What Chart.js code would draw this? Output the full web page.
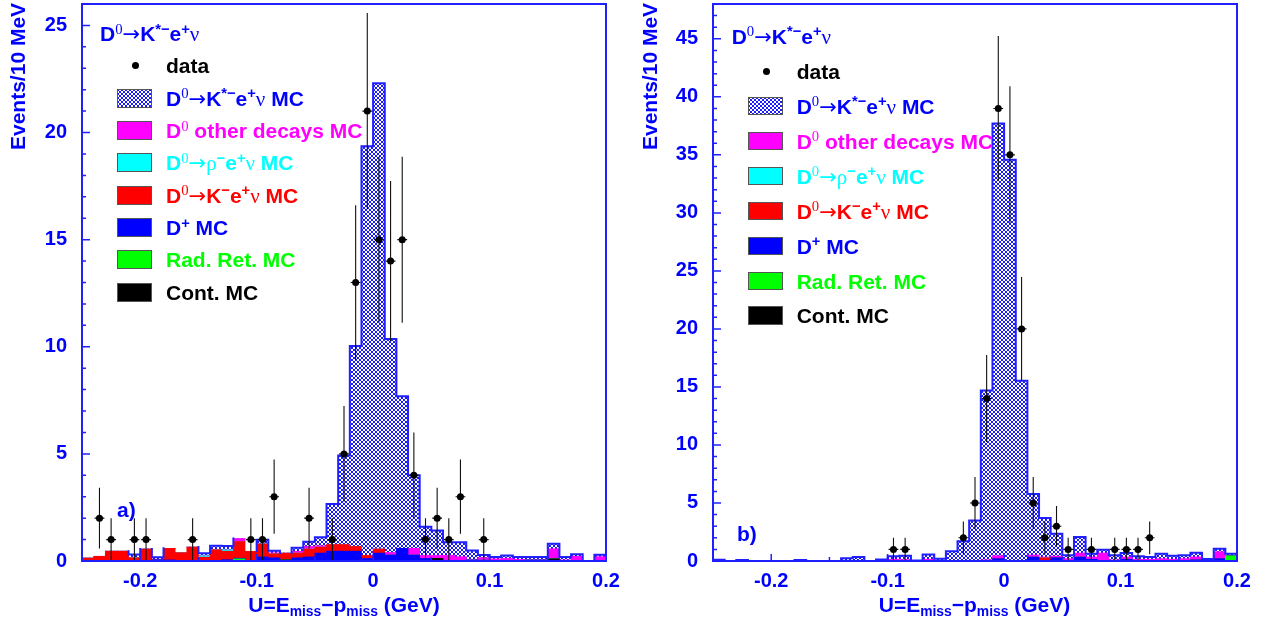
<!DOCTYPE html>
<html><head><meta charset="utf-8">
<script src="https://cdn.jsdelivr.net/npm/chart.js@4.4.1/dist/chart.umd.min.js"></script>
<style>
html,body{margin:0;padding:0;background:#fff;}
body{width:1268px;height:625px;position:relative;overflow:hidden;font-family:'Liberation Sans',Arial,sans-serif;font-weight:bold;}
canvas{position:absolute;top:0;}
.lbl{position:absolute;white-space:nowrap;line-height:1;z-index:5;}
.sup{position:relative;top:-0.48em;font-size:0.7em;}
.sub{position:relative;top:0.32em;font-size:0.66em;}
.serif{font-family:'Liberation Serif','DejaVu Serif',serif;font-weight:normal;}
.arrow{font-family:'DejaVu Sans',sans-serif;font-weight:normal;}
.sw{position:absolute;box-sizing:border-box;border:1px solid #555;z-index:5;}
.dot{position:absolute;border-radius:50%;background:#000;z-index:5;}
.ytitle{position:absolute;white-space:nowrap;line-height:1;transform:rotate(-90deg);transform-origin:left top;color:#0000ff;font-size:21px;}
</style></head><body>
<canvas id="ca" width="634" height="625" style="left:0"></canvas>
<canvas id="cb" width="634" height="625" style="left:634px"></canvas>
<div id="ov"></div>
<script>
// ---------------- data ----------------
const binWidth = 0.01;
const binCenters = [-0.245,-0.235,-0.225,-0.215,-0.205,-0.195,-0.185,-0.175,-0.165,-0.155,
  -0.145,-0.135,-0.125,-0.115,-0.105,-0.095,-0.085,-0.075,-0.065,-0.055,
  -0.045,-0.035,-0.025,-0.015,-0.005,0.005,0.015,0.025,0.035,0.045,
  0.055,0.065,0.075,0.085,0.095,0.105,0.115,0.125,0.135,0.145,
  0.155,0.165,0.175,0.185,0.195];
const xTickVals = [-0.2,-0.1,0,0.1,0.2];
const xTickLabels = ['-0.2','-0.1','0','0.1','0.2'];
const yTicksA = [0,5,10,15,20,25];
const yTicksB = [0,5,10,15,20,25,30,35,40,45];

// panel a)
const dataA  = [0,2,1,0,1,1,0,0,0,1, 0,0,0,0,1,1,3,0,0,2, 0,1,5,13,21,15,14,15,4,1, 2,1,3,0,1,0,0,0,0,0, 0,0,0,0,0];
const contA  = [0,0,0,0,0,0,0,0,0,0, 0,0,0,0,0,0,0,0.05,0,0, 0,0,0,0,0,0,0,0,0,0, 0.12,0,0,0,0,0,0,0,0,0, 0.10,0,0,0,0];
const radA   = [0,0,0,0,0,0,0,0,0,0, 0,0,0,0.10,0,0,0,0,0,0, 0,0,0,0,0,0,0,0,0,0, 0,0,0,0,0,0,0,0,0,0, 0,0,0,0,0];
const dplusA = [0,0,0,0,0,0,0.06,0.05,0,0, 0,0,0.06,0.03,0,0.19,0.15,0,0.15,0.19, 0.37,0.46,0.46,0.46,0.12,0.37,0.28,0.59,0.28,0.12, 0,0,0,0.05,0.04,0,0,0,0.05,0.05, 0,0,0,0,0];
const kenuA  = [0.14,0.22,0.46,0.46,0.15,0.56,0,0.54,0.39,0.65, 0.18,0.53,0.40,0.78,0.45,0.61,0.19,0.32,0.22,0.37, 0.28,0.31,0.31,0.22,0.14,0.19,0,0,0,0, 0,0,0,0,0,0,0,0,0,0, 0,0,0,0,0];
const rhoA   = [0,0,0,0,0,0,0,0,0,0, 0.06,0,0.06,0,0,0,0,0,0,0, 0,0,0,0,0,0,0,0,0,0, 0,0,0,0,0,0,0,0,0,0, 0,0,0,0,0];
const otherA = [0,0,0,0,0,0,0,0,0,0, 0,0,0,0.14,0,0,0.04,0,0.08,0.12, 0.06,0,0,0,0,0,0.12,0,0.31,0.14, 0.14,0.26,0.20,0,0.12,0.10,0.12,0.08,0,0, 0.47,0.05,0.22,0,0.20];
const kstarA = [0,0,0,0,0.15,0,0.12,0,0,0, 0.12,0.18,0.18,0,0,0.19,0.10,0,0.17,0.22, 0.40,1.89,4.16,9.36,19.10,21.74,9.96,7.10,3.41,1.34, 1.16,0.61,0.67,0.44,0.12,0.09,0.14,0.11,0.14,0.14, 0.23,0.14,0.09,0,0.09];

// panel b)
const dataB  = [0,0,0,0,0,0,0,0,0,0, 0,0,0,0,0,1,1,0,0,0, 0,2,5,14,39,35,20,5,2,3, 1,0,1,0,1,1,1,2,0,0, 0,0,0,0,0];
const contB  = [0,0,0,0,0,0,0,0,0,0, 0,0,0,0,0,0,0,0,0,0, 0,0,0,0,0,0,0,0,0,0, 0,0,0,0,0,0,0,0,0,0, 0,0,0,0,0.05];
const radB   = [0,0,0,0,0,0,0,0,0,0, 0,0,0,0,0,0,0,0,0,0, 0,0,0,0,0,0,0,0,0,0, 0,0,0,0,0,0,0,0,0,0, 0,0,0,0,0.40];
const dplusB = [0,0,0,0,0,0,0,0,0,0, 0,0,0,0,0,0.05,0,0,0.05,0, 0,0,0,0,0.20,0,0,0.34,0,0.28, 0.05,0.34,0.15,0.06,0,0.15,0,0,0,0, 0,0.10,0,0.20,0];
const kenuB  = [0,0,0,0,0,0,0,0,0,0, 0,0,0,0,0,0,0,0,0,0, 0,0,0,0,0,0,0,0,0.28,0, 0,0,0,0,0,0,0,0,0,0, 0,0,0,0,0];
const rhoB   = [0,0,0,0,0,0,0,0,0,0, 0,0,0,0,0,0,0,0,0,0, 0,0,0,0,0,0,0,0,0,0, 0,0,0,0,0,0,0,0,0,0, 0,0,0,0,0];
const otherB = [0,0,0,0,0,0,0,0,0,0, 0,0,0,0,0,0.10,0.12,0,0.10,0, 0,0,0,0.10,0.25,0,0,0.17,0.06,0.14, 0.15,0.34,0.20,0.63,0.10,0.20,0.15,0.15,0.20,0.15, 0.20,0.25,0,0.60,0];
const kstarB = [0.10,0,0.08,0,0,0,0,0.08,0,0, 0,0.23,0.34,0,0.12,0.25,0.34,0.05,0.42,0.20, 0.83,1.71,3.49,14.59,37.25,34.57,15.54,5.26,3.37,1.92, 0.29,1.38,0.28,0.28,0.39,0.34,0.25,0.19,0.43,0.31, 0.29,0.36,0.17,0.26,0.18];

// ---------------- style ----------------
const BLUE = '#0000ff';
const FRAME = '#2020ff';
const FONT = 'Liberation Sans';

// cross-hatch tile (blue diagonals on white)
const hatchTile = document.createElement('canvas');
hatchTile.width = 8; hatchTile.height = 8;
(function(){
  const g = hatchTile.getContext('2d');
  g.fillStyle = '#fff'; g.fillRect(0, 0, 8, 8);
  g.strokeStyle = '#0000ff'; g.lineWidth = 0.9;
  g.beginPath();
  for (let c = -16; c <= 16; c += 4) { g.moveTo(c - 4, -4); g.lineTo(c + 12, 12); }
  for (let c = -8; c <= 24; c += 4) { g.moveTo(c + 4, -4); g.lineTo(c - 12, 12); }
  g.stroke();
})();

const framePlugin = {
  id: 'frame',
  afterDraw(chart) {
    const {ctx, chartArea: a, scales: {x, y}} = chart;
    ctx.save();
    ctx.strokeStyle = FRAME;
    ctx.lineWidth = 1.5;
    ctx.beginPath();
    for (let v = 0; v <= y.max + 1e-9; v += 1) {
      const py = y.getPixelForValue(v);
      const len = (v % 5 === 0) ? 8 : 4;
      ctx.moveTo(a.left, py); ctx.lineTo(a.left + len, py);
    }
    for (let k = 0; k <= 9; k++) {
      const v = x.min + 0.05 * k;
      const major = Math.abs(v * 10 - Math.round(v * 10)) < 1e-6;
      const px = x.getPixelForValue(v);
      ctx.moveTo(px, a.bottom); ctx.lineTo(px, a.bottom - (major ? 7 : 4));
    }
    ctx.stroke();
    ctx.lineWidth = 2;
    ctx.strokeRect(a.left, a.top, a.right - a.left, a.bottom - a.top);
    ctx.restore();
  }
};

const errPlugin = {
  id: 'errbars',
  beforeDatasetDraw(chart, args) {
    const ds = chart.data.datasets[args.index];
    if (ds.stack !== 'data') return;
    const {ctx, scales: {x, y}, chartArea: a} = chart;
    ctx.save();
    ctx.strokeStyle = '#111';
    ctx.lineWidth = 1.1;
    ctx.beginPath();
    ds.data.forEach(pt => {
      const e = Math.sqrt(pt.y);
      const px = x.getPixelForValue(pt.x);
      const py = y.getPixelForValue(pt.y);
      ctx.moveTo(px, Math.max(a.top, y.getPixelForValue(pt.y + e)));
      ctx.lineTo(px, Math.min(a.bottom, y.getPixelForValue(pt.y - e)));
      ctx.moveTo(x.getPixelForValue(pt.x - 0.0042), py);
      ctx.lineTo(x.getPixelForValue(pt.x + 0.0042), py);
    });
    ctx.stroke();
    ctx.restore();
  }
};

function buildChart(id, p) {
  const ctx = document.getElementById(id).getContext('2d');
  const hatch = ctx.createPattern(hatchTile, 'repeat');
  const comps = [
    [p.cont, '#000000'], [p.rad, '#00ff00'], [p.dplus, '#0000ff'], [p.kenu, '#ff0000'],
    [p.rho, '#00ffff'], [p.other, '#ff00ff'], [p.kstar, hatch]
  ];
  const datasets = comps.map(([vals, col]) => ({
    type: 'bar',
    data: binCenters.map((c, i) => ({x: c, y: vals[i]})),
    backgroundColor: col, borderWidth: 0,
    barPercentage: 1, categoryPercentage: 1,
    stack: 'mc', order: 2
  }));
  const total = binCenters.map((_, i) => comps.reduce((s, [v]) => s + v[i], 0));
  const outline = [];
  binCenters.forEach((c, i) => {
    outline.push({x: c - binWidth / 2, y: total[i]});
    outline.push({x: c + binWidth / 2, y: total[i]});
  });
  datasets.push({
    type: 'line', data: outline, borderColor: FRAME, borderWidth: 2,
    pointRadius: 0, fill: false, tension: 0, stack: 'outline', order: 1,
    borderJoinStyle: 'miter', borderCapStyle: 'square',
    segment: {
      borderColor: s => {
        const j = s.p0DataIndex, i = j >> 1;
        const vis = (j % 2 === 0) ? p.kstar[i] > 0 : (p.kstar[i] > 0 || (p.kstar[i + 1] || 0) > 0);
        return vis ? FRAME : 'rgba(0,0,0,0)';
      }
    }
  });
  const pts = [];
  binCenters.forEach((c, i) => { if (p.data[i] > 0) pts.push({x: c, y: p.data[i]}); });
  datasets.push({type: 'scatter', data: pts, backgroundColor: '#000', borderWidth: 0,
    pointRadius: 3.5, stack: 'data', order: 0});

  const tickFont = {family: FONT, weight: 'bold', size: 20};
  return new Chart(ctx, {
    type: 'bar',
    data: {datasets},
    options: {
      responsive: false, animation: false, devicePixelRatio: 1, events: [],
      layout: {padding: {left: 0, right: p.padRight, top: 1, bottom: 0}},
      plugins: {legend: {display: false}, tooltip: {enabled: false}},
      scales: {
        x: {
          type: 'linear', min: -0.25, max: 0.2, offset: false,
          grid: {display: false, drawTicks: false}, border: {display: false},
          afterBuildTicks: s => { s.ticks = xTickVals.map(v => ({value: v})); },
          ticks: {autoSkip: false, maxRotation: 0, minRotation: 0, color: BLUE, font: tickFont,
            padding: 8, callback: (v, i) => xTickLabels[i]},
          afterFit: s => { s.height = 64; s.paddingLeft = 0; s.paddingRight = 0; }
        },
        y: {
          type: 'linear', min: 0, max: p.yMax, stacked: true,
          grid: {display: false, drawTicks: false}, border: {display: false},
          afterBuildTicks: s => { s.ticks = p.yTicks.map(v => ({value: v})); },
          ticks: {color: BLUE, font: tickFont, padding: 15, callback: v => String(v)},
          afterFit: s => { s.width = p.yAxisW; s.paddingTop = 0; s.paddingBottom = 0; }
        }
      }
    },
    plugins: [errPlugin, framePlugin]
  });
}

buildChart('ca', {data: dataA, cont: contA, rad: radA, dplus: dplusA, kenu: kenuA, rho: rhoA,
  other: otherA, kstar: kstarA, yMax: 26, yTicks: yTicksA, yAxisW: 82, padRight: 28});
buildChart('cb', {data: dataB, cont: contB, rad: radB, dplus: dplusB, kenu: kenuB, rho: rhoB,
  other: otherB, kstar: kstarB, yMax: 48, yTicks: yTicksB, yAxisW: 79, padRight: 31});

// ---------------- text overlays ----------------
const SUP = t => '<span class="sup">' + t + '</span>';
const SUP0 = '<span class="sup serif">0</span>';
const ARR = '<span class="arrow">→</span>';
const NU = '<span class="serif">ν</span>';
const RHO = '<span class="serif">ρ</span>';
const titleHTML = 'D' + SUP0 + ARR + 'K' + SUP('*−') + 'e' + SUP('+') + NU;
const legendRows = [
  {html: titleHTML + ' MC', color: '#0000ff', fill: 'hatch'},
  {html: 'D' + SUP0 + ' other decays MC', color: '#ff00ff', fill: '#ff00ff'},
  {html: 'D' + SUP0 + ARR + RHO + SUP('−') + 'e' + SUP('+') + NU + ' MC', color: '#00ffff', fill: '#00ffff'},
  {html: 'D' + SUP0 + ARR + 'K' + SUP('−') + 'e' + SUP('+') + NU + ' MC', color: '#ff0000', fill: '#ff0000'},
  {html: 'D' + SUP('+') + ' MC', color: '#0000ff', fill: '#0000ff'},
  {html: 'Rad. Ret. MC', color: '#00ff00', fill: '#00ff00'},
  {html: 'Cont. MC', color: '#000000', fill: '#000000'}
];
const hatchURL = hatchTile.toDataURL();
const ov = document.getElementById('ov');
function add(html, cls, style) {
  const d = document.createElement('div');
  d.className = cls; d.innerHTML = html;
  Object.assign(d.style, style);
  ov.appendChild(d);
  return d;
}
function legend(L) {
  add(titleHTML, 'lbl', {left: L.titleX + 'px', top: L.titleY + 'px', fontSize: '21px', color: BLUE});
  add('', 'dot', {left: (L.dotX - 3.5) + 'px', top: (L.dotY - 3.5) + 'px', width: '7px', height: '7px'});
  add('data', 'lbl', {left: L.textX + 'px', top: (L.dotY - 10.5) + 'px', fontSize: '21px', color: '#000'});
  legendRows.forEach((r, i) => {
    const cy = L.rowY[i];
    const sw = add('', 'sw', {left: L.swX + 'px', top: (cy - L.swH / 2) + 'px', width: L.swW + 'px', height: L.swH + 'px'});
    if (r.fill === 'hatch') { sw.style.backgroundImage = 'url(' + hatchURL + ')'; }
    else sw.style.background = r.fill;
    add(r.html, 'lbl', {left: L.textX + 'px', top: (cy - 10.5) + 'px', fontSize: '21px', color: r.color});
  });
}
legend({titleX: 100, titleY: 23, dotX: 135, dotY: 65, textX: 166,
  rowY: [98, 130.3, 162.6, 195, 227.3, 259.6, 292], swX: 117, swW: 35, swH: 19});
legend({titleX: 731.7, titleY: 25.5, dotX: 766.7, dotY: 71, textX: 796.7,
  rowY: [106, 141, 176, 211, 246, 281, 315.7], swX: 747.7, swW: 35.6, swH: 18.7});

add('a)', 'lbl', {left: '117px', top: '498.5px', fontSize: '21px', color: BLUE});
add('b)', 'lbl', {left: '737px', top: '522.5px', fontSize: '21px', color: BLUE});

const xTitle = 'U=E<span class="sub">miss</span>−p<span class="sub">miss</span> (GeV)';
add(xTitle, 'lbl', {left: '344px', top: '594px', fontSize: '21px', color: BLUE, transform: 'translateX(-50%)'});
add(xTitle, 'lbl', {left: '974.5px', top: '594px', fontSize: '21px', color: BLUE, transform: 'translateX(-50%)'});
add('Events/10 MeV', 'ytitle', {left: '7.2px', top: '150px'});
add('Events/10 MeV', 'ytitle', {left: '638.9px', top: '150px'});
</script>
</body></html>
